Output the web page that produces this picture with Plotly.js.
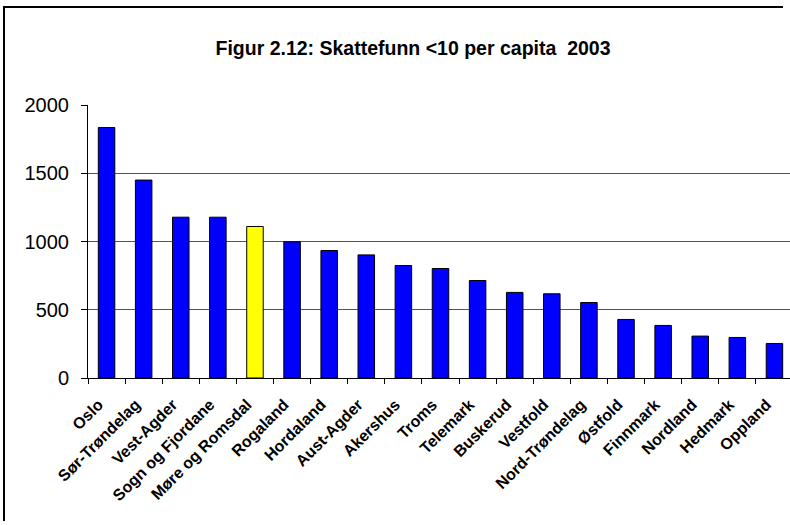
<!DOCTYPE html>
<html>
<head>
<meta charset="utf-8">
<script src="https://cdn.plot.ly/plotly-3.0.1.min.js"></script>
<style>
  html, body { margin: 0; padding: 0; background: #fff; overflow: hidden; width: 790px; height: 525px; }
  #chart { position: absolute; left: 0; top: 0; width: 800px; height: 525px; }
  #frame { position: absolute; left: 3px; top: 6px; width: 780px; height: 515px;
           border-top: 2px solid #000; border-left: 2px solid #000; border-right: none; border-bottom: none;
           box-sizing: border-box; pointer-events: none; }
</style>
</head>
<body>
<div id="chart"></div>
<div id="frame"></div>
<script>
const categories = ["Oslo", "Sør-Trøndelag", "Vest-Agder", "Sogn og Fjordane", "Møre og Romsdal",
  "Rogaland", "Hordaland", "Aust-Agder", "Akershus", "Troms", "Telemark", "Buskerud",
  "Vestfold", "Nord-Trøndelag", "Østfold", "Finnmark", "Nordland", "Hedmark", "Oppland"];
const values = [1835, 1450, 1178, 1178, 1110, 998, 934, 902, 824, 802, 714, 627,
  617, 553, 429, 385, 307, 297, 253];
const highlighted = "Møre og Romsdal";
const yTicks = [0, 500, 1000, 1500, 2000];
const titleText = "Figur 2.12: Skattefunn <10 per capita  2003";

const FONT = "Liberation Sans, Arial, sans-serif";
const colors = categories.map(c => c === highlighted ? "#FFFF00" : "#0000FF");

const trace = {
  type: "bar",
  x: categories,
  y: values,
  marker: { color: colors, line: { color: "#000", width: 1 } },
  hoverinfo: "x+y"
};

const layout = {
  width: 800,
  height: 525,
  margin: { l: 88, r: 6.5, t: 105, b: 146.7, pad: 0 },
  paper_bgcolor: "#fff",
  plot_bgcolor: "#fff",
  showlegend: false,
  bargap: 0.555,
  font: { family: FONT, color: "#000" },
  title: {
    text: "<b>" + titleText + "</b>",
    font: { family: FONT, size: 19.5, color: "#000" },
    x: 413 / 800, xref: "container", xanchor: "center",
    y: 1 - 48 / 525, yref: "container", yanchor: "middle"
  },
  xaxis: {
    type: "category",
    range: [-0.5, categories.length - 0.5],
    tickangle: -45,
    tickfont: { family: FONT, size: 16, color: "#000", weight: "bold" },
    ticks: "outside",
    tickson: "boundaries",
    ticklen: 5,
    tickcolor: "#000",
    ticklabelstandoff: 10,
    ticklabelshift: -8,
    showline: true,
    linecolor: "#000",
    linewidth: 1,
    showgrid: false,
    zeroline: false
  },
  yaxis: {
    range: [0, 2000],
    tickvals: yTicks,
    ticktext: yTicks.map(String),
    tickfont: { family: FONT, size: 20, color: "#000" },
    ticks: "outside",
    ticklen: 6,
    tickcolor: "#000",
    ticklabelstandoff: 8,
    showline: true,
    linecolor: "#000",
    linewidth: 1,
    showgrid: true,
    gridcolor: "#555",
    gridwidth: 1,
    zeroline: false
  }
};

Plotly.newPlot("chart", [trace], layout, { staticPlot: true, displayModeBar: false });
</script>
</body>
</html>
